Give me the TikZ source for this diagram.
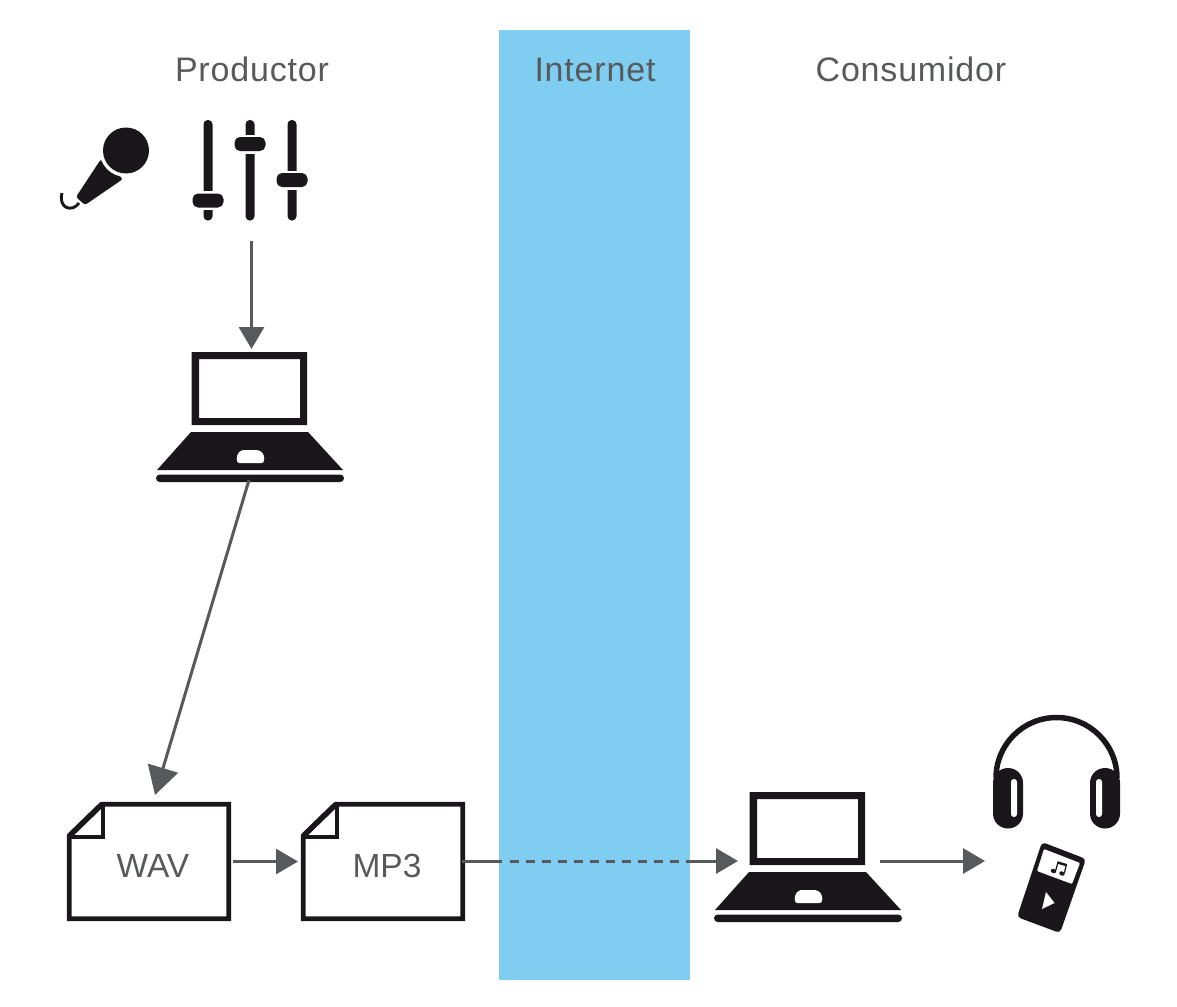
\documentclass[tikz,border=0pt]{standalone}
\usepackage{fontspec}
\setmainfont{Liberation Sans}[LetterSpace=2.4]
\usetikzlibrary{arrows.meta}
\definecolor{ink}{HTML}{1A171B}
\definecolor{txt}{HTML}{58595B}
\definecolor{sky}{HTML}{7FCDF0}
\tikzset{
  title/.style={text=txt,inner sep=0pt,font=\fontsize{34}{36}\selectfont},
  filelabel/.style={text=txt,inner sep=0pt,font=\addfontfeature{LetterSpace=0}\fontsize{33.5}{36}\selectfont},
  iconbox/.style={inner sep=0pt,outer sep=0pt,minimum width=#1},
  conn/.style={draw=txt,line width=3pt},
  tipS/.style={-{Triangle[length=22pt,width=25pt]}},
  tipL/.style={-{Triangle[length=28pt,width=31pt]}},
  fileline/.style={draw=ink,line width=4.8pt,miter limit=10},
}
\newcommand{\laptop}[2]{%
  \begin{scope}[shift={(#1,#2)}]
    \fill[ink,even odd rule] (35.5,3) rectangle (151,76) (43,10) rectangle (144,69);
    \fill[ink] (35,83) -- (152,83) -- (187,121) -- (1,121) -- cycle;
    \fill[white] (87,101) -- (101,101) .. controls (106,102) and (108,105) .. (108.3,110)
      .. controls (108.5,113) and (107,114.2) .. (105,114.2) -- (84,114.2)
      .. controls (82,114.2) and (80.5,113) .. (80.7,110)
      .. controls (81,105) and (83,102) .. (87,101) -- cycle;
    \fill[ink,rounded corners=3.7pt] (0,125.5) rectangle (188,133);
  \end{scope}}
\newcommand{\filebox}[1]{%
  \begin{scope}[shift={(#1,0)}]
    \draw[fileline,line join=miter] (102,804.2) -- (228.8,804.2) -- (228.8,918.8) -- (69.2,918.8) -- (69.2,836) -- cycle;
    \draw[fileline,line width=5.5pt] (102,804.2) -- (69.2,836);
    \draw[fileline,line width=3.8pt] (103,805) -- (103,837) -- (69,837);
  \end{scope}}
\begin{document}
\begin{tikzpicture}[x=1pt,y=-1pt]
\useasboundingbox (0,0) rectangle (1177,1006);
\fill[sky] (499,30) rectangle (690,980);
% titles
\node[title] (tprod) at (252,69.5) {Productor};
\node[title] (tnet) at (595,69.5) {Internet};
\node[title] (tcons) at (911,69.5) {Consumidor};
% microphone
\fill[ink,rounded corners=2.5pt] (101,159) -- (123,179) -- (85,205) -- (76,197) -- cycle;
\fill[white] (126,150.5) circle (26.5);
\fill[ink] (126,150.5) circle (23);
\draw[ink,line width=2.9pt] (62,193) .. controls (58,208) and (72,213) .. (79,203);
% mixer
\foreach \sx/\ky in {208/200.5,250/144,292/180}{
  \fill[ink,rounded corners=4.2pt] (\sx-4.5,120) rectangle (\sx+4.5,220.5);
  \fill[white] (\sx-15,\ky-9.5) rectangle (\sx+15,\ky+9.5);
  \fill[ink,rounded corners=5.5pt] (\sx-15.5,\ky-7) rectangle (\sx+15.5,\ky+7);
}
\node[iconbox=114pt,minimum height=142pt] (mixer) at (251.5,170) {};
% producer laptop
\laptop{156}{349}
\node[iconbox=188pt,minimum height=133pt] (lapprod) at (251.5,415.5) {};
% files
\filebox{0}
\filebox{234}
\node[iconbox=164pt,minimum height=119pt] (wav) at (149,861.5) {};
\node[iconbox=164pt,minimum height=119pt] (mp3) at (383,861.5) {};
\node[filelabel] (wavl) at (153,865.5) {WAV};
\node[filelabel] (mp3l) at (387,865.5) {MP3};
% consumer laptop
\laptop{714}{789}
\node[iconbox=188pt,minimum height=133pt] (lapcons) at (808,855.5) {};
% headphones
\draw[ink,line width=5.5pt] (996,778) arc[start angle=180,end angle=360,radius=60.5];
\foreach \cx/\sx in {1008/1014,1105/1099}{
  \fill[ink,rounded corners=14.9pt] (\cx-15,768) rectangle (\cx+15,828.5);
  \fill[white,rounded corners=2.9pt] (\sx-3,779) rectangle (\sx+3,817);
}
% player
\fill[ink,rounded corners=4pt] (1042,842) -- (1086,859) -- (1060,933) -- (1017,917) -- cycle;
\fill[white,rounded corners=1pt] (1044,849) -- (1080,863) -- (1072,884) -- (1037,871) -- cycle;
\fill[white] (1046,892) -- (1054.5,903) -- (1042,909) -- cycle;
\fill[ink,rotate around={-20:(1053.5,871)}] (1053.5,871) ellipse (2.8 and 2.1);
\fill[ink,rotate around={-20:(1062,873.5)}] (1062,873.5) ellipse (2.8 and 2.1);
\draw[ink,line width=1.2pt] (1055.7,870.5) -- (1058,862) -- (1066.5,864.5) -- (1064.3,873);
\draw[ink,line width=2pt] (1057.8,862.8) -- (1066.3,865.3);
\node[iconbox=130pt,minimum height=220pt] (listen) at (1056,825) {};
% connectors
\coordinate (wavin) at (155,795);
\coordinate (lapout) at (249,480);
\draw[conn,tipS] (mixer.south) -- (lapprod.north);
\draw[conn,tipL] (lapout) -- (wavin);
\draw[conn,tipS,shorten <=2pt,shorten >=3pt] (wav.east) -- (mp3.west);
\coordinate (mp3out) at (462,861);
\coordinate (solidend) at (502,861);
\coordinate (dashstart) at (510,861);
\coordinate (dashend) at (679,861);
\coordinate (solidstart) at (686,861);
\coordinate (lapin) at (738,861);
\coordinate (lapcout) at (880,861);
\coordinate (playin) at (985,861);
\draw[conn] (mp3out) -- (solidend);
\draw[conn,dash pattern=on 9pt off 7pt] (dashstart) -- (dashend);
\draw[conn,tipS] (solidstart) -- (lapin);
\draw[conn,tipS] (lapcout) -- (playin);
\end{tikzpicture}
\end{document}
